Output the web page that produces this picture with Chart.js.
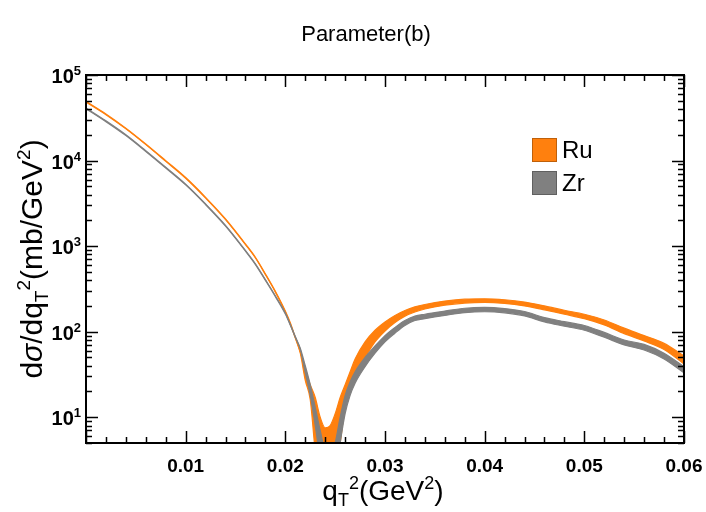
<!DOCTYPE html>
<html>
<head>
<meta charset="utf-8">
<script src="https://cdn.jsdelivr.net/npm/chart.js@4.4.0/dist/chart.umd.min.js"></script>
<style>
html, body { margin: 0; padding: 0; background: #fff; }
#wrap { width: 706px; height: 512px; }
</style>
</head>
<body>
<div id="wrap"><canvas id="chart" width="706" height="512"></canvas></div>
<script>
// q_T^2 grid (GeV^2)
const qValues = [0, 0.002, 0.004, 0.006, 0.008, 0.010, 0.012, 0.014, 0.016, 0.017, 0.018, 0.019, 0.020, 0.0205, 0.021, 0.0215,
    0.022, 0.0225, 0.023, 0.0235, 0.024, 0.0245, 0.025, 0.0255, 0.026, 0.0265, 0.027,
    0.028, 0.029, 0.030, 0.031, 0.032, 0.033, 0.034,
    0.036, 0.038, 0.040, 0.042, 0.044, 0.046, 0.048, 0.050,
    0.052, 0.054, 0.056, 0.058, 0.060];

// band edges, mb/GeV^2
const ruLow = [48200, 34350, 23460, 15350, 9790, 6210, 3640, 2040, 1040, 726, 464, 290, 170, 123, 84, 56,
    27, 16, 4, 1.5, 1, 1.5, 3, 5, 14, 22, 32,
    50, 76, 102, 128, 152, 170, 184,
    204, 216, 220, 214, 200, 180, 160, 142,
    120, 95, 78, 62, 42];
const ruHigh = [49200, 35050, 23940, 15650, 9990, 6330, 3720, 2080, 1060, 740, 474, 296, 174, 127, 86, 58,
    36, 24, 17, 10, 7.5, 8, 11, 17, 24, 34, 48,
    76, 104, 130, 155, 177, 195, 208,
    228, 240, 242, 236, 222, 200, 178, 160,
    137, 110, 90, 73, 52];
const zrLow = [40400, 28500, 19600, 12770, 8180, 5190, 3050, 1710, 872, 609, 398, 257, 161, 119, 86, 62,
    33, 18, 8, 3, 1, 1, 2, 5, 11, 18, 25,
    39, 56, 76, 96, 118, 135, 142,
    155, 167, 171, 166, 153, 130, 116, 104,
    86, 70, 61, 48, 33];
const zrHigh = [41200, 29100, 20000, 13030, 8340, 5290, 3110, 1750, 890, 621, 406, 263, 165, 121, 88, 64,
    40, 24, 13, 7, 4, 3.5, 5, 10, 18, 26, 34,
    50, 68, 90, 112, 135, 152, 160,
    174, 188, 192, 186, 172, 146, 131, 118,
    98, 80, 71, 56, 39];

const seriesNames = ['Ru', 'Zr'];
const seriesColors = ['#ff800e', '#808080'];
const xTickValues = [0.01, 0.02, 0.03, 0.04, 0.05, 0.06];
const xTickLabels = ['0.01', '0.02', '0.03', '0.04', '0.05', '0.06'];
const yTickExponents = [1, 2, 3, 4, 5];

const FONT = '"Liberation Sans", Arial, Helvetica, sans-serif';

function pts(arr) {
    return qValues.map((q, i) => ({ x: q, y: arr[i] }));
}

function fontOf(p) {
    return (p.italic ? 'italic ' : '') + (p.bold ? 'bold ' : '') + p.size + 'px ' + FONT;
}

function drawRich(ctx, parts, x, y, align) {
    let w = 0;
    parts.forEach(p => { ctx.font = fontOf(p); w += ctx.measureText(p.t).width; });
    let cx = align === 'center' ? x - w / 2 : align === 'right' ? x - w : x;
    parts.forEach(p => {
        ctx.font = fontOf(p);
        ctx.fillText(p.t, cx, y + (p.dy || 0));
        cx += ctx.measureText(p.t).width;
    });
}

const framePlugin = {
    id: 'frame',
    afterDraw(chart) {
        const { ctx, chartArea: a, scales } = chart;
        const xs = scales.x, ys = scales.y;
        ctx.save();
        ctx.strokeStyle = '#000';
        ctx.fillStyle = '#000';
        ctx.textAlign = 'left';
        ctx.textBaseline = 'alphabetic';

        // ticks on all four sides, pointing in
        ctx.lineWidth = 1.5;
        ctx.beginPath();
        for (let i = 0; i <= 30; i++) {
            const px = Math.round(xs.getPixelForValue(i * 0.002)) + 0.5;
            const len = i % 5 === 0 ? 12 : 6;
            ctx.moveTo(px, a.bottom); ctx.lineTo(px, a.bottom - len);
            ctx.moveTo(px, a.top); ctx.lineTo(px, a.top + len);
        }
        for (let e = 0; e <= 5; e++) {
            for (let m = 1; m <= 9; m++) {
                const v = m * Math.pow(10, e);
                if (v < 5 || v > 100000) continue;
                const py = Math.round(ys.getPixelForValue(v)) + 0.5;
                const len = m === 1 ? 12 : 6;
                ctx.moveTo(a.left, py); ctx.lineTo(a.left + len, py);
                ctx.moveTo(a.right, py); ctx.lineTo(a.right - len, py);
            }
        }
        ctx.stroke();

        ctx.lineWidth = 2;
        ctx.strokeRect(a.left, a.top, a.right - a.left, a.bottom - a.top);

        // x tick labels
        ctx.font = 'bold 19px ' + FONT;
        ctx.textAlign = 'center';
        xTickValues.forEach((v, i) => {
            ctx.fillText(xTickLabels[i], xs.getPixelForValue(v), 472);
        });
        ctx.textAlign = 'left';

        // y tick labels 10^n
        yTickExponents.forEach(e => {
            const py = ys.getPixelForValue(Math.pow(10, e));
            drawRich(ctx, [
                { t: '10', size: 20, bold: true },
                { t: String(e), size: 13, bold: true, dy: -8 }
            ], 81, py + 8, 'right');
        });

        // axis titles
        drawRich(ctx, [
            { t: 'q', size: 28 },
            { t: 'T', size: 18, dy: 6 },
            { t: '2', size: 18, dy: -11 },
            { t: '(GeV', size: 28 },
            { t: '2', size: 18, dy: -11 },
            { t: ')', size: 28 }
        ], 383, 500, 'center');

        ctx.save();
        ctx.translate(42, 259);
        ctx.rotate(-Math.PI / 2);
        drawRich(ctx, [
            { t: 'd', size: 30 },
            { t: 'σ', size: 30, italic: true },
            { t: '/dq', size: 30 },
            { t: 'T', size: 19, dy: 6 },
            { t: '2', size: 19, dy: -12 },
            { t: '(mb/GeV', size: 30 },
            { t: '2', size: 19, dy: -12 },
            { t: ')', size: 30 }
        ], 0, 0, 'center');
        ctx.restore();

        // title
        ctx.font = '22px ' + FONT;
        ctx.textAlign = 'center';
        ctx.fillText('Parameter(b)', 366, 41);

        // legend
        ctx.textAlign = 'left';
        seriesNames.forEach((name, i) => {
            const top = 138 + i * 33;
            ctx.fillStyle = seriesColors[i];
            ctx.fillRect(532, top, 25, 24);
            ctx.lineWidth = 1;
            ctx.strokeStyle = 'rgba(0,0,0,0.25)';
            ctx.strokeRect(532.5, top + 0.5, 24, 23);
            ctx.fillStyle = '#000';
            ctx.font = '24px ' + FONT;
            ctx.fillText(name, 562, top + 20);
        });
        ctx.restore();
    }
};

function band(color, low, high, baseIndex) {
    return [
        { label: 'low', data: pts(low), borderColor: color, backgroundColor: color, borderWidth: 1.2, fill: false },
        { label: 'high', data: pts(high), borderColor: color, backgroundColor: color, borderWidth: 1.2, fill: baseIndex }
    ];
}

const chart = new Chart(document.getElementById('chart').getContext('2d'), {
    type: 'line',
    data: {
        // Zr listed first so it is drawn on top of Ru
        datasets: [
            ...band(seriesColors[1], zrLow, zrHigh, 0),
            ...band(seriesColors[0], ruLow, ruHigh, 2)
        ]
    },
    options: {
        responsive: false,
        animation: false,
        layout: { padding: { top: 75, right: 22, left: 0, bottom: 0 } },
        elements: {
            point: { radius: 0 },
            line: { cubicInterpolationMode: 'monotone', borderJoinStyle: 'round' }
        },
        plugins: {
            legend: { display: false },
            title: { display: false },
            tooltip: { enabled: false }
        },
        scales: {
            x: {
                type: 'linear', min: 0, max: 0.06,
                grid: { display: false }, border: { display: false },
                ticks: { display: false },
                afterFit: s => { s.height = 69; }
            },
            y: {
                type: 'logarithmic', min: 5, max: 100000,
                grid: { display: false }, border: { display: false },
                ticks: { display: false },
                afterFit: s => { s.width = 86; }
            }
        }
    },
    plugins: [framePlugin]
});
</script>
</body>
</html>
